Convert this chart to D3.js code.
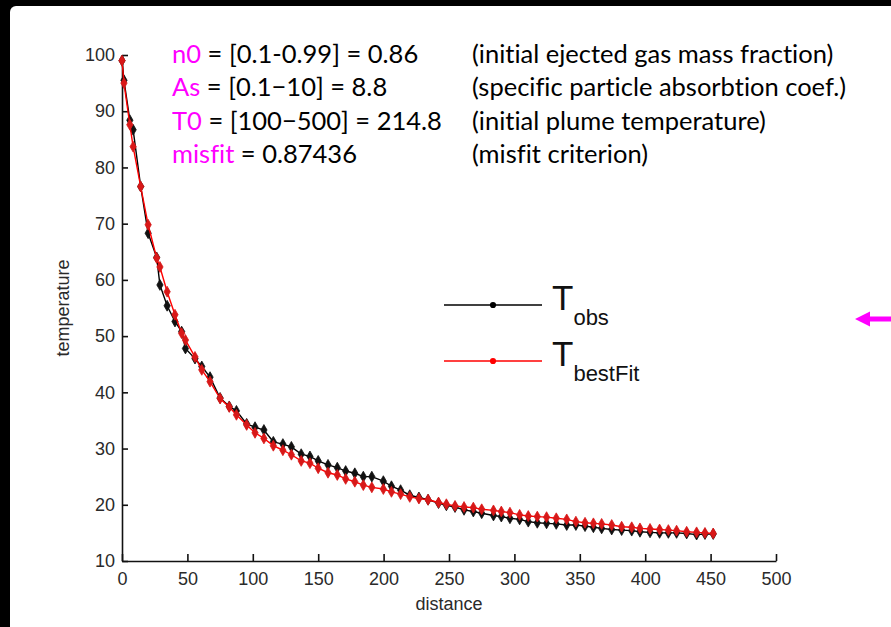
<!DOCTYPE html>
<html>
<head>
<meta charset="utf-8">
<script src="https://cdn.jsdelivr.net/npm/d3@7/dist/d3.min.js"></script>
<style>
  html, body { margin: 0; padding: 0; background: #000; }
  svg { display: block; }
  text { font-variant-ligatures: none; font-feature-settings: "liga" 0, "dlig" 0; }
</style>
</head>
<body>
<svg id="chart" width="891" height="627"></svg>
<script>
// Sampling positions along the plume (distance) and the two temperature profiles
const distance = [0, 1.5, 6, 8.5, 14.3, 20, 26.5, 29, 34.5, 40.5, 45.6, 48.5, 55.8, 61, 67.3, 75, 82, 87.5, 95.3, 101.7,
  108.5, 115.7, 123, 129.5, 137, 143.7, 150, 157.5, 164.6, 171, 178, 184.5, 191, 199.8, 206, 213, 220, 227, 234, 242,
  248, 254.6, 261.5, 268.6, 275, 284, 290, 296.6, 304, 310.6, 317.5, 324.6, 332, 340, 347, 354, 360.4, 366.7, 374.4,
  382, 389.7, 396, 403.7, 411, 417.7, 424, 431.7, 439.3, 445.7, 452];
const tObs = [99, 95.5, 88.4, 86.7, 76.6, 68.3, 64.0, 59.1, 55.4, 52.6, 50.8, 47.8, 46.0, 44.6, 42.7, 39.0, 37.5, 36.7, 34.4, 33.8,
  33.3, 31.2, 30.8, 30.3, 29.0, 28.6, 27.8, 27.1, 26.6, 26.0, 25.6, 25.0, 25.0, 24.2, 23.3, 22.6, 21.7, 21.3, 20.9, 20.3,
  19.9, 19.6, 19.1, 18.8, 18.5, 18.1, 17.9, 17.6, 17.4, 17.0, 16.8, 16.7, 16.6, 16.4, 16.4, 16.2, 16.0, 15.8, 15.6,
  15.5, 15.4, 15.2, 15.1, 15.0, 15.0, 15.0, 14.9, 14.7, 14.8, 14.8];
const tBestFit = [99, 95.0, 87.6, 83.7, 76.6, 69.8, 63.9, 62.3, 57.9, 53.8, 50.5, 49.3, 46.3, 44.0, 41.9, 38.9, 37.4, 36.0, 34.2, 32.8,
  31.8, 30.5, 29.7, 28.9, 27.8, 27.4, 26.5, 25.7, 25.3, 24.6, 24.1, 23.5, 23.1, 22.8, 22.3, 21.9, 21.4, 21.1, 20.9, 20.4,
  20.1, 19.8, 19.6, 19.5, 19.2, 19.0, 18.8, 18.6, 18.2, 18.0, 17.9, 17.8, 17.6, 17.4, 17.0, 16.8, 16.7, 16.6, 16.4,
  16.1, 16.0, 15.8, 15.7, 15.6, 15.5, 15.4, 15.2, 15.1, 15.0, 14.9];
const xTicks = [0, 50, 100, 150, 200, 250, 300, 350, 400, 450, 500];
const yTicks = [10, 20, 30, 40, 50, 60, 70, 80, 90, 100];

// Inversion parameters shown above the plot
const paramNames = ["n0", "As", "T0", "misfit"];
const paramValues = [" = [0.1-0.99] = 0.86", " = [0.1\u221210] = 8.8", " = [100\u2212500] = 214.8", " = 0.87436"];
const paramNotes = ["(initial ejected gas mass fraction)", "(specific particle absorbtion coef.)",
  "(initial plume temperature)", "(misfit criterion)"];

const svg = d3.select("#chart");
const magenta = "#ff00ff";
const tickFont = "'Liberation Sans', Arial, sans-serif";
const noteFont = "Lato, 'Open Sans', sans-serif";

// white slide panel on black background
svg.append("rect").attr("x", 10).attr("y", 6).attr("width", 900).attr("height", 640)
  .attr("rx", 6).attr("fill", "#fff");

const x = d3.scaleLinear().domain([0, 500]).range([122, 776]);
const y = d3.scaleLinear().domain([10, 100]).range([561, 55]);

// axes (inward ticks, left and bottom only)
const xAxis = svg.append("g").attr("transform", "translate(0,561)")
  .call(d3.axisBottom(x).tickValues(xTicks).tickSizeInner(-7).tickSizeOuter(0).tickPadding(11));
const yAxis = svg.append("g").attr("transform", "translate(122,0)")
  .call(d3.axisLeft(y).tickValues(yTicks).tickSizeInner(-6).tickSizeOuter(0).tickPadding(7));
[xAxis, yAxis].forEach(g => {
  g.select(".domain").attr("stroke", "#111").attr("stroke-width", 1.6);
  g.selectAll(".tick line").attr("stroke", "#111").attr("stroke-width", 1.6);
  g.selectAll(".tick text").attr("fill", "#2a2a2a").style("font-family", tickFont).style("font-size", "18px");
});

svg.append("text").attr("x", 449).attr("y", 610).attr("text-anchor", "middle")
  .style("font-family", tickFont).style("font-size", "18px").attr("fill", "#2a2a2a").text("distance");
svg.append("text").attr("transform", "translate(69,308) rotate(-90)").attr("text-anchor", "middle")
  .style("font-family", tickFont).style("font-size", "18px").attr("fill", "#2a2a2a").text("temperature");

// series
const line = d3.line().x((d, i) => x(distance[i])).y(d => y(d));
const marker = d3.symbol().type(d3.symbolDiamond).size(34);

function drawSeries(values, lineColor, markColor) {
  const g = svg.append("g");
  g.append("path").datum(values).attr("d", line).attr("fill", "none")
    .attr("stroke", lineColor).attr("stroke-width", 1.4);
  g.selectAll("path.m").data(values).join("path").attr("class", "m")
    .attr("d", marker)
    .attr("transform", (d, i) => `translate(${x(distance[i])},${y(d)})`)
    .attr("fill", markColor).attr("stroke", markColor).attr("stroke-width", 0.8);
}
drawSeries(tObs, "#000", "#111");
drawSeries(tBestFit, "#ff0000", "#d81818");

// legend
const legend = [
  { name: "obs", color: "#000", yPos: 305 },
  { name: "bestFit", color: "#ff0000", yPos: 361 }
];
legend.forEach(l => {
  svg.append("line").attr("x1", 444).attr("x2", 542).attr("y1", l.yPos).attr("y2", l.yPos)
    .attr("stroke", l.color).attr("stroke-width", 1.4);
  svg.append("path").attr("d", d3.symbol().type(d3.symbolCircle).size(30))
    .attr("transform", `translate(493,${l.yPos})`).attr("fill", l.color);
  const t = svg.append("text").attr("x", 552).attr("y", l.yPos + 5)
    .style("font-family", tickFont).attr("fill", "#111");
  t.append("tspan").style("font-size", "35px").text("T");
  t.append("tspan").style("font-size", "22px").attr("dy", 15).text(l.name);
});

// parameter annotations
const note = svg.append("g").style("font-family", noteFont).style("font-size", "25.5px");
paramNames.forEach((p, i) => {
  const by = 63 + i * 33.3;
  const t = note.append("text").attr("x", 172).attr("y", by).attr("fill", "#000");
  t.append("tspan").attr("fill", magenta).text(p);
  t.append("tspan").text(paramValues[i]);
  note.append("text").attr("x", 472).attr("y", by).attr("fill", "#000").text(paramNotes[i]);
});

// magenta pointer at the right edge
svg.append("path")
  .attr("d", "M855,319 L870,311.5 L870,316.5 L891,316.5 L891,321.5 L870,321.5 L870,326.5 Z")
  .attr("fill", magenta);
</script>
</body>
</html>
